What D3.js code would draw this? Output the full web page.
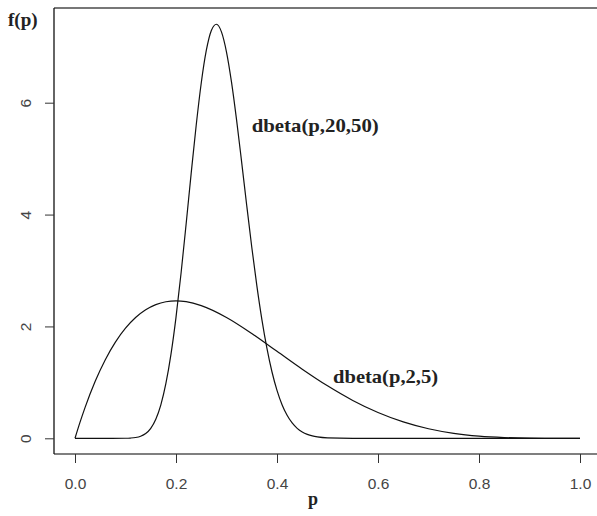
<!DOCTYPE html>
<html><head><meta charset="utf-8">
<script src="https://cdn.jsdelivr.net/npm/d3@7"></script>
<style>html,body{margin:0;padding:0;background:#fff;}svg{display:block;}</style>
</head><body>
<script>
// Beta(20,50) density
const pA = [0,0.05,0.10,0.11,0.12,0.13,0.14,0.15,0.16,0.17,0.18,0.19,0.20,0.21,0.22,0.23,0.24,0.25,0.26,0.27,0.28,0.29,0.30,0.31,0.32,0.33,0.34,0.35,0.36,0.37,0.38,0.39,0.40,0.41,0.42,0.43,0.44,0.45,0.46,0.47,0.48,0.50,0.55,0.60,0.70,0.80,0.90,1.0];
const fA = [0,0,0.0013,0.0047,0.0141,0.0368,0.0853,0.1784,0.3405,0.5990,0.9799,1.5003,2.1631,2.9513,3.8262,4.7313,5.5978,6.3530,6.9337,7.2920,7.4029,7.2669,6.9059,6.3619,5.6876,4.9378,4.1673,3.4210,2.7333,2.1263,1.6114,1.1899,0.8564,0.6008,0.4110,0.2741,0.1782,0.1130,0.0698,0.0420,0.0247,0.0078,0.0003,0,0,0,0,0];
// Beta(2,5) density
const pB = [0,0.01,0.02,0.04,0.06,0.08,0.10,0.12,0.14,0.16,0.18,0.20,0.22,0.25,0.30,0.35,0.40,0.45,0.50,0.55,0.60,0.65,0.70,0.75,0.80,0.85,0.90,0.95,1.0];
const fB = [0,0.2882,0.5534,1.0192,1.4054,1.7193,1.9683,2.1589,2.2974,2.3898,2.4415,2.4576,2.4430,2.3730,2.1609,1.8743,1.5552,1.2353,0.9375,0.6766,0.4608,0.2926,0.1701,0.0879,0.0384,0.0129,0.0027,0.0002,0];
const xTicks = [0,0.2,0.4,0.6,0.8,1.0];
const yTicks = [0,2,4,6];
const labels = ["dbeta(p,20,50)","dbeta(p,2,5)"];
const labelPos = [[0.350,5.48],[0.511,0.99]];

const W=597,H=516;
const svg=d3.select("body").append("svg").attr("width",W).attr("height",H);
const x=d3.scaleLinear().domain([0,1]).range([75,580]);
const y=d3.scaleLinear().domain([0,6]).range([438.3,102.7]);
const boxL=54, boxT=8, boxB=454, boxR=600;

// box
svg.append("line").attr("x1",boxL).attr("x2",boxR).attr("y1",boxT).attr("y2",boxT).attr("stroke","#777").attr("stroke-width",2);
svg.append("line").attr("x1",boxL).attr("x2",boxR).attr("y1",boxB).attr("y2",boxB).attr("stroke","#555").attr("stroke-width",1.3);
svg.append("line").attr("x1",boxL).attr("x2",boxL).attr("y1",boxT).attr("y2",boxB).attr("stroke","#111").attr("stroke-width",1.3);

// x axis
const xa=svg.append("g").attr("transform",`translate(0,${boxB})`)
  .call(d3.axisBottom(x).tickValues(xTicks).tickFormat(d3.format(".1f")).tickSize(9).tickSizeOuter(0));
xa.select(".domain").remove();
xa.selectAll("line").attr("stroke","#333");
xa.selectAll("text").attr("font-family","Liberation Sans, Arial, sans-serif").attr("font-size",15.5).attr("fill","#444").attr("dy","0").attr("y",35);

// y axis
const ya=svg.append("g").attr("transform",`translate(${boxL},0)`)
  .call(d3.axisLeft(y).tickValues(yTicks).tickFormat(d3.format("d")).tickSize(9).tickSizeOuter(0));
ya.select(".domain").remove();
ya.selectAll("line").attr("stroke","#333");
ya.selectAll("text").attr("font-family","Liberation Sans, Arial, sans-serif").attr("font-size",15.5).attr("fill","#444")
  .attr("x",null).attr("dy",null).attr("text-anchor","middle")
  .attr("transform","translate(-28,0) rotate(-90)").attr("y",5);

// curves
const line=d3.line().x(d=>x(d[0])).y(d=>y(d[1])).curve(d3.curveMonotoneX);
svg.append("path").datum(pA.map((p,i)=>[p,fA[i]])).attr("d",line).attr("fill","none").attr("stroke","#111").attr("stroke-width",1.2);
svg.append("path").datum(pB.map((p,i)=>[p,fB[i]])).attr("d",line).attr("fill","none").attr("stroke","#111").attr("stroke-width",1.2);

// labels
const serif="Liberation Serif, Times New Roman, serif";
const widths=[127,105];
labels.forEach((t,i)=>{
  svg.append("text").attr("x",x(labelPos[i][0])).attr("y",y(labelPos[i][1])).text(t)
    .attr("font-family",serif).attr("font-weight","bold").attr("font-size",19).attr("fill","#222")
    .attr("textLength",widths[i]).attr("lengthAdjust","spacingAndGlyphs");
});
svg.append("text").attr("x",8).attr("y",26).text("f(p)").attr("font-family",serif).attr("font-weight","bold").attr("font-size",19).attr("fill","#222");
svg.append("text").attr("x",313).attr("y",505).attr("text-anchor","middle").text("p").attr("font-family",serif).attr("font-weight","bold").attr("font-size",18).attr("fill","#222");
</script>
</body></html>
